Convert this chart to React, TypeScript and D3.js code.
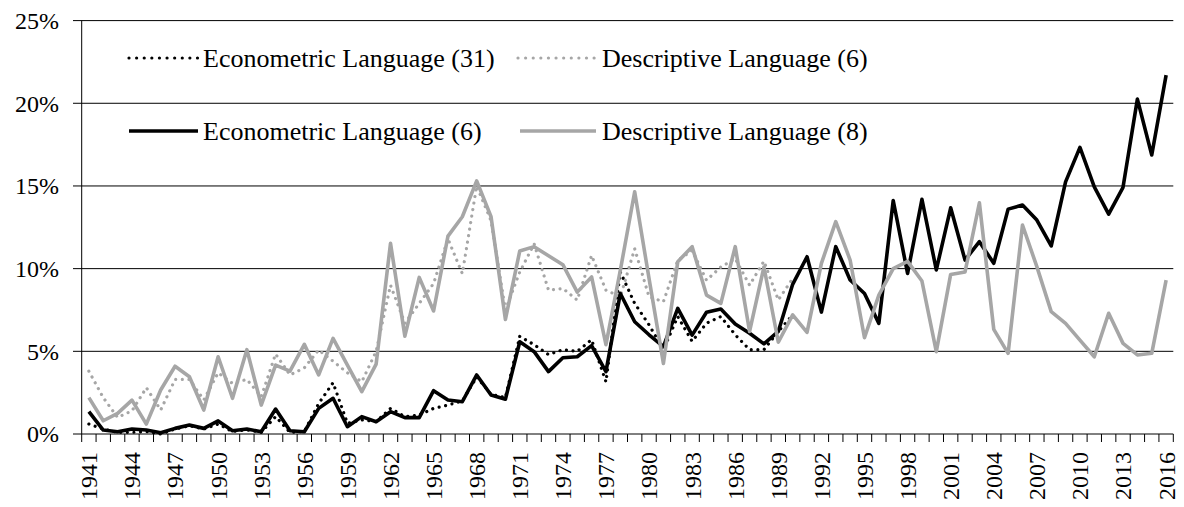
import React from "react";
import * as d3 from "d3";

const years: number[] = d3.range(1941, 2017);

const econ31: (number | null)[] = [
  0.6, 0.3, 0.1, 0.1, 0.15, 0.0, 0.3, 0.5, 0.3, 0.6,
  0.15, 0.25, 0.1, 1.05, 0.1, 0.15, 1.85, 3.1, 0.65, 0.85,
  0.75, 1.55, 1.05, 1.15, 1.55, 1.75, 2.0, 3.45, 2.4, 2.2,
  5.9, 5.4, 4.8, 5.1, 5.0, 5.7, 3.15, 9.8, 7.9, 6.6,
  5.1, 7.1, 5.6, 6.7, 7.1, 6.0, 5.1, 5.1, 6.2, 7.2,
];

const desc6: (number | null)[] = [
  3.8, 2.2, 1.0, 1.4, 2.8, 1.45, 3.3, 3.3, 2.06, 3.7,
  3.06, 3.3, 2.26, 4.84, 3.57, 4.0, 5.08, 4.4, 3.7, 3.16,
  5.0, 9.0, 6.7, 7.9, 9.1, 11.8, 9.7, 15.0, 12.9, 7.5,
  9.8, 11.5, 8.7, 8.8, 8.1, 10.8, 8.7, 8.3, 11.2, 8.3,
  8.0, 10.5, 11.1, 9.3, 10.1, 10.6, 9.0, 10.45, 8.1, 9.4,
];

const econ6: number[] = [
  1.35, 0.24, 0.14, 0.3, 0.24, 0.08, 0.34, 0.54, 0.34, 0.79,
  0.2, 0.3, 0.14, 1.51, 0.2, 0.14, 1.55, 2.16, 0.44, 1.05,
  0.74, 1.35, 0.99, 0.99, 2.62, 2.06, 1.95, 3.57, 2.36, 2.1,
  5.58, 4.98, 3.77, 4.61, 4.67, 5.34, 3.77, 8.5, 6.79, 6.0,
  5.28, 7.6, 5.98, 7.36, 7.56, 6.65, 6.09, 5.45, 6.2, 9.05,
  10.72, 7.37, 11.33, 9.31, 8.5, 6.69, 14.12, 9.71, 14.19, 9.92,
  13.68, 10.52, 11.63, 10.32, 13.6, 13.85, 12.94, 11.37, 15.25, 17.33,
  14.95, 13.3, 14.92, 20.25, 16.87, 21.7,
];

const desc8: number[] = [
  2.2, 0.8, 1.25, 2.05, 0.6, 2.66, 4.1, 3.46, 1.45, 4.67,
  2.16, 5.1, 1.75, 4.17, 3.8, 5.42, 3.57, 5.78, 4.17, 2.56,
  4.23, 11.53, 5.92, 9.47, 7.44, 11.97, 13.14, 15.31, 13.14, 6.93,
  11.07, 11.33, 10.78, 10.24, 8.58, 9.5, 5.4, 9.9, 14.65, 9.4,
  4.27, 10.42, 11.33, 8.4, 7.9, 11.33, 6.2, 10.1, 5.55, 7.2,
  6.15, 10.32, 12.84, 10.52, 5.82, 8.4, 10.0, 10.44, 9.25, 4.98,
  9.65, 9.8, 13.98, 6.33, 4.88, 12.64, 10.12, 7.4, 6.69, 5.68,
  4.67, 7.3, 5.48, 4.78, 4.88, 9.31,
];

const yTicks: number[] = [0, 5, 10, 15, 20, 25];
const seriesNames: string[] = [
  "Econometric Language (31)",
  "Descriptive Language (6)",
  "Econometric Language (6)",
  "Descriptive Language (8)",
];

const GRAY = "#A6A6A6";
const FONT = "'Liberation Serif', 'Times New Roman', serif";

export default function App() {
  const W = 1184;
  const H = 507;
  const left = 81.7;
  const right = 1173.3;
  const top = 20.6;
  const bottom = 434;

  const x = d3.scaleBand<number>().domain(years).range([left, right]).padding(0);
  const y = d3.scaleLinear().domain([0, 25]).range([bottom, top]);
  const cx = (yr: number) => (x(yr) as number) + x.bandwidth() / 2;

  const line = d3
    .line<number | null>()
    .defined((d) => d !== null && d !== undefined)
    .x((_, i) => cx(years[i]))
    .y((d) => y(d as number));

  const series = [
    { name: seriesNames[0], data: econ31, color: "#000", dotted: true },
    { name: seriesNames[1], data: desc6, color: GRAY, dotted: true },
    { name: seriesNames[2], data: econ6, color: "#000", dotted: false },
    { name: seriesNames[3], data: desc8, color: GRAY, dotted: false },
  ];

  const legendPos = [
    { lx1: 129, lx2: 198, tx: 203, ly: 58 },
    { lx1: 518, lx2: 596, tx: 602, ly: 58 },
    { lx1: 129, lx2: 198, tx: 203, ly: 131 },
    { lx1: 520, lx2: 596, tx: 602, ly: 131 },
  ];

  const boundaries = years.map((yr) => x(yr) as number).concat([right]);

  return (
    <div style={{ position: "absolute", left: 0, top: 0 }}>
      <svg width={W} height={H} style={{ display: "block", background: "#fff" }}>
        {yTicks.map((t) => (
          <line key={"g" + t} x1={73} x2={right} y1={y(t)} y2={y(t)} stroke="#000" strokeWidth={1} />
        ))}
        <line x1={left} x2={left} y1={top} y2={bottom} stroke="#000" strokeWidth={1} />
        {boundaries.map((b, i) => (
          <line key={"xt" + i} x1={b} x2={b} y1={bottom} y2={bottom + 8} stroke="#000" strokeWidth={1} />
        ))}
        {yTicks.map((t) => (
          <text key={"yl" + t} x={59} y={y(t)} dy="0.35em" textAnchor="end" fontFamily={FONT} fontSize={24} fill="#000">
            {t + "%"}
          </text>
        ))}
        {years.filter((yr) => (yr - 1941) % 3 === 0).map((yr) => (
          <text
            key={"xl" + yr}
            transform={`translate(${cx(yr)},${452}) rotate(-90)`}
            dy="0.35em"
            textAnchor="end"
            fontFamily={FONT}
            fontSize={24}
            fill="#000"
          >
            {yr}
          </text>
        ))}
        {series.map((s, i) => (
          <path
            key={"s" + i}
            d={line(s.data as (number | null)[]) || ""}
            fill="none"
            stroke={s.color}
            strokeWidth={s.dotted ? 3.2 : 3.6}
            strokeDasharray={s.dotted ? "0.01 6.6" : undefined}
            strokeLinecap={s.dotted ? "round" : "butt"}
            strokeLinejoin="round"
          />
        ))}
        {series.map((s, i) => {
          const p = legendPos[i];
          return (
            <g key={"lg" + i}>
              <line
                x1={p.lx1}
                x2={p.lx2}
                y1={p.ly}
                y2={p.ly}
                stroke={s.color}
                strokeWidth={s.dotted ? 3.2 : 3.6}
                strokeDasharray={s.dotted ? "0.01 7.6" : undefined}
                strokeLinecap={s.dotted ? "round" : "butt"}
              />
              <text x={p.tx} y={p.ly} dy="0.33em" fontFamily={FONT} fontSize={26} fill="#000">
                {s.name}
              </text>
            </g>
          );
        })}
      </svg>
    </div>
  );
}
